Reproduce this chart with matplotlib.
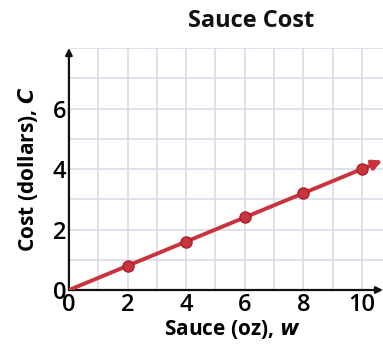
import matplotlib.pyplot as plt

# data
sauce_oz = [0, 2, 4, 6, 8, 10]
cost_dollars = [0, 0.8, 1.6, 2.4, 3.2, 4.0]
x_ticks = [0, 2, 4, 6, 8, 10]
y_ticks = [0, 2, 4, 6]

red = '#c9333c'
grid_col = '#d5d9e6'

plt.rcParams['font.family'] = ['Open Sans', 'DejaVu Sans']
plt.rcParams['mathtext.fontset'] = 'dejavusans'

fig = plt.figure(figsize=(3.83, 3.5), dpi=100)
ax = fig.add_axes([0.180, 0.1714, 0.82, 0.6914])

ax.set_xlim(0, 10.72)
ax.set_ylim(0, 8)
ax.set_xticks(range(0, 11), minor=True)
ax.set_yticks(range(0, 9), minor=True)
ax.set_xticks(x_ticks)
ax.set_yticks(y_ticks)
ax.grid(True, which='both', color=grid_col, linewidth=1.1)
ax.set_axisbelow(True)
for s in ax.spines.values():
    s.set_visible(False)
ax.tick_params(which='both', length=0, labelsize=17, pad=2)
for lab in ax.get_xticklabels() + ax.get_yticklabels():
    lab.set_fontweight('semibold')

# axes with arrows
ax.annotate('', xy=(0, 1.0), xytext=(0, 0), xycoords='axes fraction',
            arrowprops=dict(arrowstyle='-|>', color='#111111', lw=1.6,
                            mutation_scale=10, shrinkA=0, shrinkB=0),
            annotation_clip=False)
ax.annotate('', xy=(1.0, 0), xytext=(0, 0), xycoords='axes fraction',
            arrowprops=dict(arrowstyle='-|>', color='#111111', lw=1.6,
                            mutation_scale=10, shrinkA=0, shrinkB=0),
            annotation_clip=False)

# the line and its points
ax.plot(sauce_oz, cost_dollars, color=red, linewidth=2.8, solid_capstyle='round', zorder=3)
ax.plot(sauce_oz[1:], cost_dollars[1:], 'o', color=red, markersize=8,
        markeredgecolor='#a8222b', markeredgewidth=1, zorder=4)
slope = cost_dollars[-1] / sauce_oz[-1]
x_end = 10.7
ax.annotate('', xy=(x_end, slope * x_end), xytext=(sauce_oz[-1], cost_dollars[-1]),
            arrowprops=dict(arrowstyle='-|>', color=red, lw=2.8,
                            mutation_scale=14, shrinkA=0, shrinkB=0),
            annotation_clip=False, zorder=3)

fig.text(0.655, 0.94, 'Sauce Cost', ha='center', va='center',
         fontsize=17, fontweight='bold', color='#111111')
ax.set_xlabel('Sauce (oz), $\\mathbfit{w}$', fontsize=15, fontweight='bold')
ax.set_ylabel('Cost (dollars), $\\mathbfit{C}$', fontsize=15, fontweight='bold')
ax.yaxis.label.set_va('center')
ax.xaxis.label.set_va('center')
ax.xaxis.set_label_coords(0.52, -0.165)
ax.yaxis.set_label_coords(-0.13, 0.5)

fig.savefig('out.png', dpi=100)
